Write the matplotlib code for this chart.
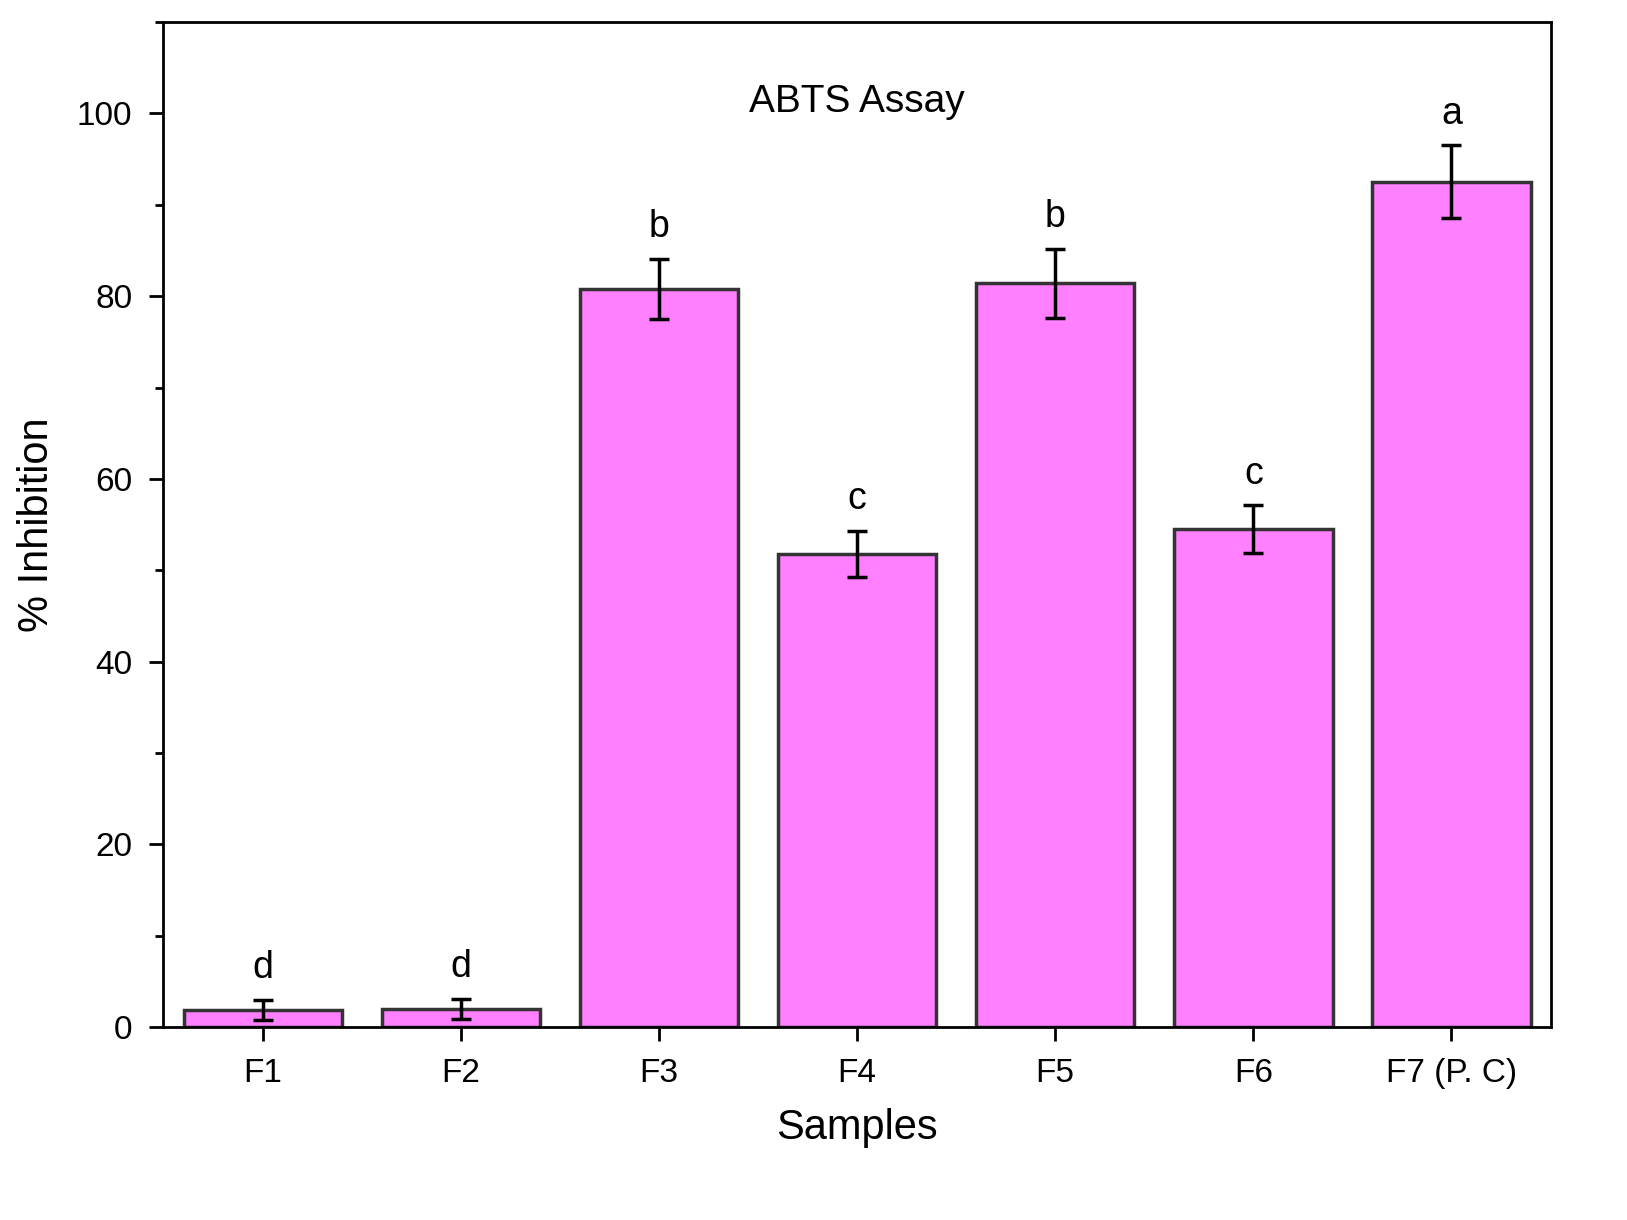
import matplotlib
matplotlib.use("Agg")
import matplotlib.pyplot as plt
from matplotlib.ticker import MultipleLocator

categories = ["F1", "F2", "F3", "F4", "F5", "F6", "F7 (P. C)"]
values = [1.9, 2.0, 80.8, 51.8, 81.4, 54.5, 92.5]
errors = [1.1, 1.1, 3.3, 2.5, 3.8, 2.6, 4.0]
letters = ["d", "d", "b", "c", "b", "c", "a"]

plt.rcParams['font.family'] = ['Liberation Sans', 'DejaVu Sans']
fig = plt.figure(figsize=(16.27, 12.2), dpi=100)
ax = fig.add_axes([0.1, 0.158, 0.853, 0.824])
x = list(range(len(categories)))
ax.bar(x, values, width=0.8, color="#FF80FF", edgecolor="#333333", linewidth=2.5, zorder=2)
ax.errorbar(x, values, yerr=errors, fmt="none", ecolor="black", elinewidth=2.5, capsize=7, capthick=2.5, zorder=3)
for xi, v, e, l in zip(x, values, errors, letters):
    ax.text(xi, v + e + 1.5, l, ha="center", va="bottom", fontsize=27)
ax.set_xlim(-0.505, 6.5)
ax.set_ylim(0, 110)
ax.set_xticks(x)
ax.set_xticklabels(categories)
ax.yaxis.set_major_locator(MultipleLocator(20))
ax.yaxis.set_minor_locator(MultipleLocator(10))
ax.tick_params(axis="both", which="major", labelsize=24, length=10, width=2, direction="out", pad=12)
ax.tick_params(axis="y", which="minor", length=6, width=2, direction="out")
for s in ax.spines.values():
    s.set_linewidth(2)
ax.set_xlabel("Samples", fontsize=30, labelpad=14)
ax.set_ylabel("% Inhibition", fontsize=30, labelpad=14)
ax.text(0.5, 0.92, "ABTS Assay", transform=ax.transAxes, ha="center", va="center", fontsize=28)
fig.savefig("out.png", dpi=100)
